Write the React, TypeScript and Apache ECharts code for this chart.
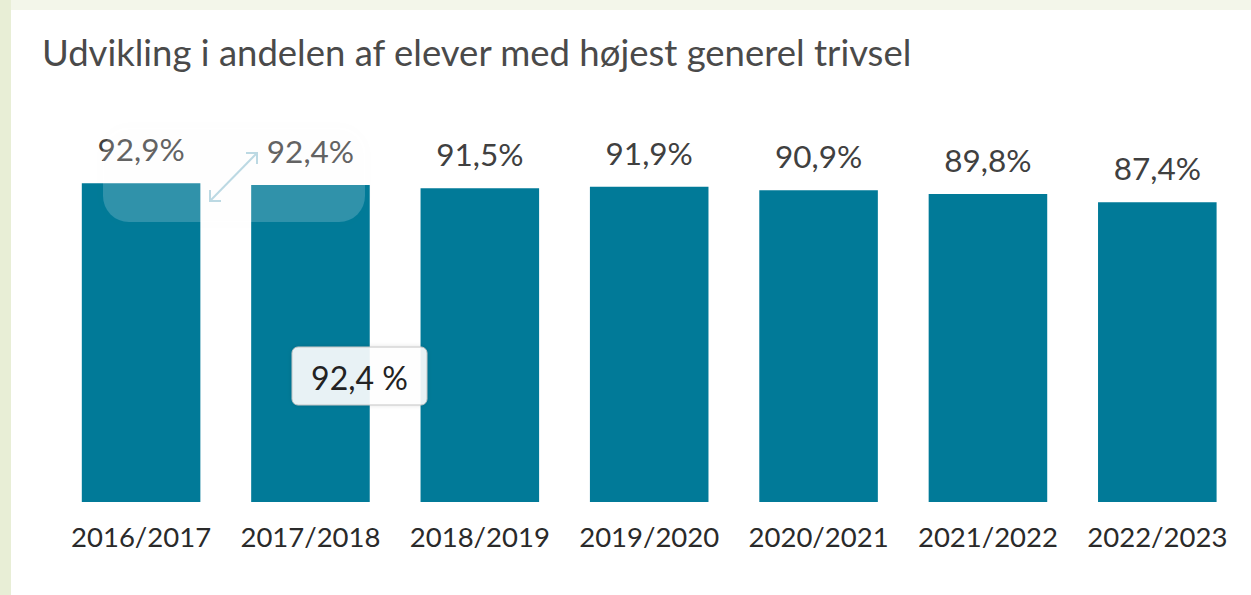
import React, { useEffect, useRef } from "react";
import * as echarts from "echarts";

const categories = ["2016/2017", "2017/2018", "2018/2019", "2019/2020", "2020/2021", "2021/2022", "2022/2023"];
const shares = [92.9, 92.4, 91.5, 91.9, 90.9, 89.8, 87.4];
const titleText = "Udvikling i andelen af elever med højest generel trivsel";
const tooltipText = "92,4 %";

const fmt = (v: number) => v.toFixed(1).replace(".", ",") + "%";

export default function App() {
  const ref = useRef<HTMLDivElement>(null);
  useEffect(() => {
    if (!ref.current) return;
    const chart = echarts.init(ref.current, null, { renderer: "svg" });
    const font = "Lato, 'Open Sans', sans-serif";
    chart.setOption({
      animation: false,
      backgroundColor: "#f3f6ea",
      title: {
        text: titleText,
        left: 37,
        top: 28,
        textStyle: { fontFamily: font, fontSize: 36.5, fontWeight: "normal", color: "#4a4a4a" },
      },
      grid: { left: 56.4, right: 9, top: 159, bottom: 93 },
      xAxis: {
        type: "category",
        data: categories,
        axisLine: { show: false },
        axisTick: { show: false },
        axisLabel: { interval: 0, hideOverlap: false, margin: 20, fontFamily: font, fontSize: 27.5, color: "#2a2a2a" },
      },
      yAxis: { type: "value", min: 0, max: 100, show: false, splitLine: { show: false } },
      graphic: [
        { type: "rect", z: -10, silent: true, shape: { x: 0, y: 0, width: 11, height: 595 }, style: { fill: "#e8eed6" } },
        { type: "rect", z: -10, silent: true, shape: { x: 11, y: 10, width: 1240, height: 585 }, style: { fill: "#ffffff" } },
        {
          type: "rect",
          z: 100,
          silent: true,
          shape: { x: 103, y: 128, width: 262, height: 94, r: 26 },
          style: { fill: "rgba(255,255,255,0.18)", shadowBlur: 14, shadowColor: "rgba(0,0,0,0.06)" },
        },
        { type: "line", z: 101, shape: { x1: 210, y1: 201, x2: 257, y2: 153 }, style: { stroke: "#bcd9e3", lineWidth: 2 } },
        { type: "polyline", z: 101, shape: { points: [[246, 153], [257, 153], [257, 164]] }, style: { stroke: "#bcd9e3", lineWidth: 2, fill: null } },
        { type: "polyline", z: 101, shape: { points: [[210, 190], [210, 201], [221, 201]] }, style: { stroke: "#bcd9e3", lineWidth: 2, fill: null } },
        {
          type: "rect",
          z: 102,
          shape: { x: 292, y: 347, width: 135, height: 58, r: 6 },
          style: { fill: "rgba(255,255,255,0.9)", stroke: "#c4c4c4", lineWidth: 1, shadowBlur: 4, shadowColor: "rgba(0,0,0,0.12)" },
        },
        {
          type: "text",
          z: 103,
          x: 359.5,
          y: 377,
          style: { text: tooltipText, fontFamily: font, fontSize: 32, fill: "#222", align: "center", verticalAlign: "middle" },
        },
      ],
      series: [
        {
          type: "bar",
          data: shares,
          barWidth: "70%",
          itemStyle: { color: "#017a98" },
          label: {
            show: true,
            position: "top",
            distance: 18,
            formatter: (p: any) => fmt(p.value),
            fontFamily: font,
            fontSize: 31.5,
            color: "#404040",
          },
        },
      ],
    });
    return () => chart.dispose();
  }, []);
  return <div ref={ref} style={{ position: "fixed", left: 0, top: 0, width: 1251, height: 595 }} />;
}
